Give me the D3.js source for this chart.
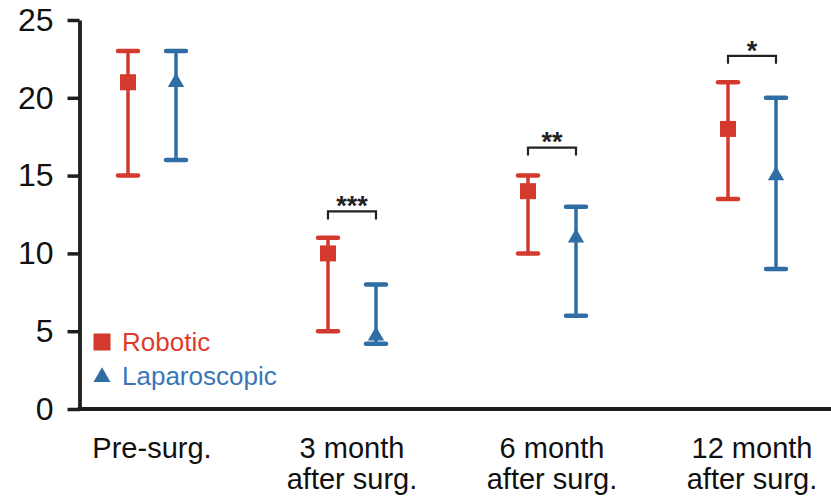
<!DOCTYPE html>
<html>
<head>
<meta charset="utf-8">
<script src="https://cdn.jsdelivr.net/npm/d3@7"></script>
<style>
  html, body { margin: 0; padding: 0; background: #fff; }
  svg { display: block; font-family: "Liberation Sans", Arial, Helvetica, sans-serif; }
</style>
</head>
<body>
<svg id="chart" width="831" height="500"></svg>
<script>
// ---- data ----
const categories = [["Pre-surg."], ["3 month", "after surg."], ["6 month", "after surg."], ["12 month", "after surg."]];
const categoryKeys = ["pre", "m3", "m6", "m12"];
const seriesNames = ["Robotic", "Laparoscopic"];
const roboticMean = [21, 10, 14, 18];
const roboticLow  = [15, 5, 10, 13.5];
const roboticHigh = [23, 11, 15, 21];
const laparoMean  = [21, 4.7, 11, 15];
const laparoLow   = [16, 4.2, 6, 9];
const laparoHigh  = [23, 8, 13, 20];
const sigLabels = ["", "***", "**", "*"];
const sigLevel  = [null, 12.7, 16.8, 22.7];
const yTicks = [0, 5, 10, 15, 20, 25];

// ---- styles ----
const red = "#d3392c", blue = "#2f6ea5";
const redText = "#df3b2c", blueText = "#3a76b6";
const axisColor = "#1e1e1e";

const svg = d3.select("#chart");
const y = d3.scaleLinear().domain([0, 25]).range([409, 20]);
const x = d3.scalePoint().domain(categoryKeys).range([152, 752]);
const offset = 24;

// y axis
const yAxis = svg.append("g").attr("transform", "translate(79.5,0)")
  .call(d3.axisLeft(y).tickValues(yTicks).tickSize(12).tickSizeOuter(0).tickPadding(14));
yAxis.select(".domain").attr("stroke", axisColor).attr("stroke-width", 3.8);
yAxis.selectAll(".tick line").attr("stroke", axisColor).attr("stroke-width", 3.5);
yAxis.selectAll(".tick text").attr("font-size", 32).attr("fill", "#111")
  .attr("font-family", "Liberation Sans, Arial, sans-serif");

// x axis line
svg.append("line").attr("x1", 77.6).attr("x2", 831).attr("y1", y(0)).attr("y2", y(0))
  .attr("stroke", axisColor).attr("stroke-width", 4);

// x labels
const xl = svg.append("g");
categoryKeys.forEach((k, i) => {
  const t = xl.append("text").attr("x", x(k)).attr("y", 458).attr("text-anchor", "middle")
    .attr("font-size", 29).attr("fill", "#111");
  categories[i].forEach((line, j) => {
    t.append("tspan").attr("x", x(k)).attr("dy", j === 0 ? 0 : 31).text(line);
  });
});

// series
const series = [
  { name: seriesNames[0], mean: roboticMean, low: roboticLow, high: roboticHigh, color: red, sym: d3.symbolSquare, size: 256, dx: -offset },
  { name: seriesNames[1], mean: laparoMean, low: laparoLow, high: laparoHigh, color: blue, sym: d3.symbolTriangle, size: 115, dx: offset }
];

series.forEach(s => {
  const g = svg.append("g");
  categoryKeys.forEach((k, i) => {
    const cx = x(k) + s.dx;
    g.append("line").attr("x1", cx).attr("x2", cx).attr("y1", y(s.low[i])).attr("y2", y(s.high[i]))
      .attr("stroke", s.color).attr("stroke-width", 3.5);
    [s.low[i], s.high[i]].forEach(v => {
      g.append("line").attr("x1", cx - 10).attr("x2", cx + 10).attr("y1", y(v)).attr("y2", y(v))
        .attr("stroke", s.color).attr("stroke-width", 4.5).attr("stroke-linecap", "round");
    });
    g.append("path").attr("d", d3.symbol().type(s.sym).size(s.size)())
      .attr("transform", `translate(${cx},${y(s.mean[i])})`)
      .attr("fill", s.color);
  });
});

// significance brackets
categoryKeys.forEach((k, i) => {
  if (sigLevel[i] == null) return;
  const by = y(sigLevel[i]);
  const x1 = x(k) - offset, x2 = x(k) + offset;
  svg.append("path").attr("d", `M${x1},${by + 8}V${by}H${x2}V${by + 8}`)
    .attr("fill", "none").attr("stroke", "#222").attr("stroke-width", 2.2);
  svg.append("text").attr("x", x(k)).attr("y", by - 11.5 + 0.57 * 27).attr("text-anchor", "middle")
    .attr("font-size", 27).attr("font-weight", "bold").attr("fill", "#222").text(sigLabels[i]);
});

// legend
const lg = svg.append("g");
lg.append("path").attr("d", d3.symbol().type(d3.symbolSquare).size(289)())
  .attr("transform", "translate(102,342)").attr("fill", red);
lg.append("text").attr("x", 122).attr("y", 351).attr("font-size", 26).attr("fill", redText).text(seriesNames[0]);
lg.append("path").attr("d", d3.symbol().type(d3.symbolTriangle).size(125)())
  .attr("transform", "translate(102,377)").attr("fill", blue);
lg.append("text").attr("x", 122).attr("y", 385).attr("font-size", 26).attr("fill", blueText).text(seriesNames[1]);
</script>
</body>
</html>
